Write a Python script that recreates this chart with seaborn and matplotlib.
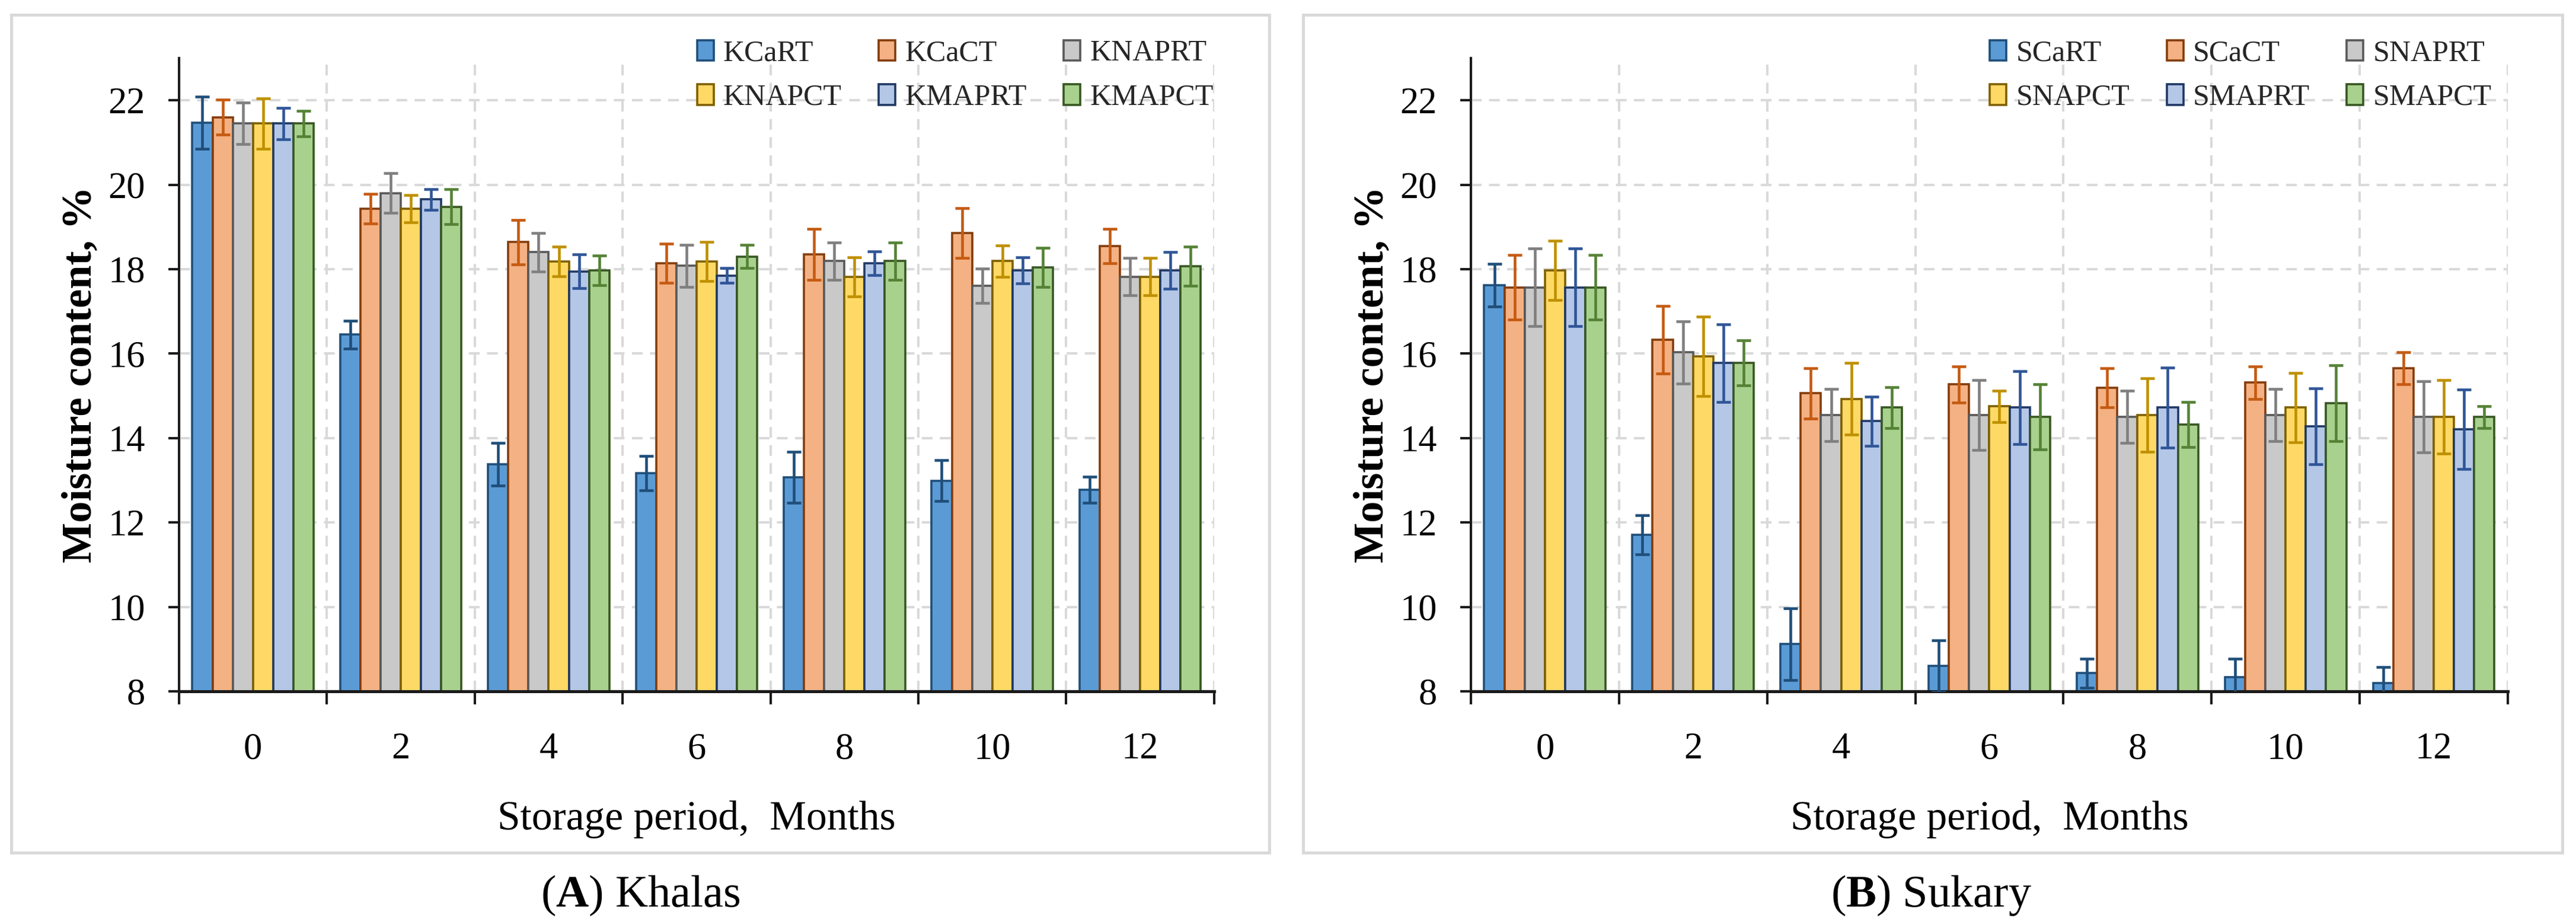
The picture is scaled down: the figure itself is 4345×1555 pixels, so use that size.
import numpy as np
import pandas as pd
import seaborn as sns
import matplotlib.pyplot as plt
from matplotlib.ticker import FixedLocator
from matplotlib.patches import Rectangle

# ---------------- data ----------------
months = ["0", "2", "4", "6", "8", "10", "12"]

khalas_labels = ["KCaRT", "KCaCT", "KNAPRT", "KNAPCT", "KMAPRT", "KMAPCT"]
KCaRT = [21.47, 16.45, 13.38, 13.17, 13.07, 12.99, 12.77]
KCaCT = [21.60, 19.43, 18.64, 18.14, 18.35, 18.86, 18.55]
KNAPRT = [21.45, 19.80, 18.40, 18.08, 18.19, 17.61, 17.82]
KNAPCT = [21.45, 19.43, 18.18, 18.18, 17.82, 18.19, 17.82]
KMAPRT = [21.45, 19.65, 17.95, 17.85, 18.14, 17.97, 17.97]
KMAPCT = [21.45, 19.48, 17.97, 18.30, 18.19, 18.04, 18.07]
KCaRT_err = [0.62, 0.33, 0.51, 0.41, 0.60, 0.48, 0.31]
KCaCT_err = [0.41, 0.35, 0.53, 0.46, 0.60, 0.59, 0.41]
KNAPRT_err = [0.49, 0.47, 0.46, 0.50, 0.44, 0.41, 0.44]
KNAPCT_err = [0.60, 0.32, 0.35, 0.46, 0.46, 0.37, 0.44]
KMAPRT_err = [0.37, 0.25, 0.40, 0.18, 0.28, 0.31, 0.43]
KMAPCT_err = [0.30, 0.42, 0.35, 0.27, 0.44, 0.46, 0.47]

sukary_labels = ["SCaRT", "SCaCT", "SNAPRT", "SNAPCT", "SMAPRT", "SMAPCT"]
SCaRT = [17.62, 11.71, 9.12, 8.60, 8.43, 8.33, 8.19]
SCaCT = [17.57, 16.33, 15.06, 15.27, 15.19, 15.31, 15.65]
SNAPRT = [17.57, 16.03, 14.54, 14.54, 14.50, 14.54, 14.50]
SNAPCT = [17.97, 15.93, 14.93, 14.75, 14.54, 14.72, 14.50]
SMAPRT = [17.57, 15.78, 14.40, 14.72, 14.72, 14.28, 14.21]
SMAPCT = [17.57, 15.78, 14.72, 14.50, 14.32, 14.83, 14.50]
SCaRT_err = [0.50, 0.46, 0.85, 0.61, 0.34, 0.44, 0.39]
SCaCT_err = [0.76, 0.80, 0.60, 0.43, 0.46, 0.39, 0.38]
SNAPRT_err = [0.92, 0.74, 0.62, 0.83, 0.62, 0.62, 0.84]
SNAPCT_err = [0.70, 0.94, 0.85, 0.37, 0.87, 0.82, 0.87]
SMAPRT_err = [0.92, 0.92, 0.58, 0.87, 0.95, 0.90, 0.94]
SMAPCT_err = [0.76, 0.53, 0.48, 0.77, 0.54, 0.90, 0.26]

y_ticks = [8, 10, 12, 14, 16, 18, 20, 22]

# ---------------- style ----------------
fills = ["#5B9BD5", "#F4B183", "#C9C9C9", "#FFD966", "#B4C7E7", "#A9D18E"]
edges = ["#1F4E79", "#843C0C", "#595959", "#7F6000", "#203864", "#385723"]
errcols = ["#1F4E79", "#C55A11", "#7F7F7F", "#BF9000", "#2F5597", "#548235"]
grid_col = "#D9D9D9"
axis_col = "#1A1A1A"

sns.set_theme(style="white")
plt.rcParams["font.family"] = ["Liberation Serif", "DejaVu Serif"]
plt.rcParams["mathtext.fontset"] = "custom"
plt.rcParams["mathtext.rm"] = "Liberation Serif"
plt.rcParams["mathtext.bf"] = "Liberation Serif:bold"
plt.rcParams["lines.scale_dashes"] = False

fig = plt.figure(figsize=(43.45, 15.55), dpi=100)
ax1 = fig.add_axes([0.0695, 0.2502, 0.4018, 0.6868])
ax2 = fig.add_axes([0.5710, 0.2502, 0.4025, 0.6868])


def panel(ax, labels, series, errs):
    rows = []
    for lab, vals in zip(labels, series):
        for m, v in zip(months, vals):
            rows.append({"Month": m, "Moisture": v, "Treatment": lab})
    df = pd.DataFrame(rows)
    sns.barplot(data=df, x="Month", y="Moisture", hue="Treatment",
                order=months, hue_order=labels, palette=fills,
                width=0.82, gap=0, saturation=1, errorbar=None,
                legend=False, linewidth=2.6, ax=ax, zorder=2)
    bar_conts = list(ax.containers)
    for i, cont in enumerate(bar_conts):
        xs, ys = [], []
        for b in cont:
            b.set_edgecolor(edges[i])
            xs.append(b.get_x() + b.get_width() / 2)
            ys.append(b.get_height())
        ax.errorbar(xs, ys, yerr=errs[i], fmt="none", ecolor=errcols[i],
                    elinewidth=3.3, capsize=8.5, capthick=3.3, zorder=4)

    ax.set_xlim(-0.5, 6.5)
    ax.set_ylim(8, 23)
    ax.set_yticks(y_ticks)
    ax.xaxis.set_minor_locator(FixedLocator(np.arange(-0.5, 7.0, 1.0)))
    ax.set_axisbelow(True)
    ax.grid(False)
    ax.grid(axis="y", which="major", color=grid_col, lw=2.9,
            linestyle=(0, (13, 9)))
    ax.grid(axis="x", which="minor", color=grid_col, lw=2.9,
            linestyle=(0, (13, 9)))

    for s in ["top", "right"]:
        ax.spines[s].set_visible(False)
    ax.spines["left"].set_color(axis_col)
    ax.spines["left"].set_linewidth(2.9)
    ax.spines["bottom"].set_color(axis_col)
    ax.spines["bottom"].set_linewidth(3.6)

    ax.tick_params(axis="y", which="major", length=13, width=2.9,
                   color=axis_col, pad=28, labelsize=45, left=True,
                   direction="out", labelcolor="black")
    ax.tick_params(axis="x", which="major", length=0, pad=50,
                   labelsize=45, labelcolor="black")
    ax.tick_params(axis="x", which="minor", length=16, width=2.9,
                   color=axis_col, bottom=True, direction="out")

    ax.set_xlabel("Storage period,  Months", fontsize=50, va="center",
                  color="black")
    ax.xaxis.set_label_coords(0.5, -0.2022)
    ax.set_ylabel("Moisture content, %", fontsize=52, fontweight="bold",
                  va="center", color="black")
    ax.yaxis.set_label_coords(-0.0951, 0.5)

    order = [0, 3, 1, 4, 2, 5]
    ax.legend([bar_conts[i] for i in order], [labels[i] for i in order],
              ncol=3, loc="upper left", bbox_to_anchor=(0.5006, 1.029),
              frameon=False, fontsize=36, borderpad=0, borderaxespad=0,
              handlelength=0.56, handleheight=0.68, handletextpad=0.32,
              columnspacing=1.25, labelspacing=0.56)


panel(ax1, khalas_labels,
      [KCaRT, KCaCT, KNAPRT, KNAPCT, KMAPRT, KMAPCT],
      [KCaRT_err, KCaCT_err, KNAPRT_err, KNAPCT_err, KMAPRT_err, KMAPCT_err])
panel(ax2, sukary_labels,
      [SCaRT, SCaCT, SNAPRT, SNAPCT, SMAPRT, SMAPCT],
      [SCaRT_err, SCaCT_err, SNAPRT_err, SNAPCT_err, SMAPRT_err, SMAPCT_err])

# panel frames
for x0, x1 in [(19, 2141), (2197.5, 4322)]:
    fig.add_artist(Rectangle((x0 / 4345, 1 - 1438 / 1555),
                             (x1 - x0) / 4345, (1438 - 25) / 1555,
                             transform=fig.transFigure, fill=False,
                             edgecolor=grid_col, lw=3.6))

fig.text(0.2486, 0.029, r"($\mathbf{A}$) Khalas", ha="center", va="center",
         fontsize=55, color="black")
fig.text(0.7496, 0.029, r"($\mathbf{B}$) Sukary", ha="center", va="center",
         fontsize=55, color="black")

fig.savefig("out.png", dpi=100, facecolor="white")
